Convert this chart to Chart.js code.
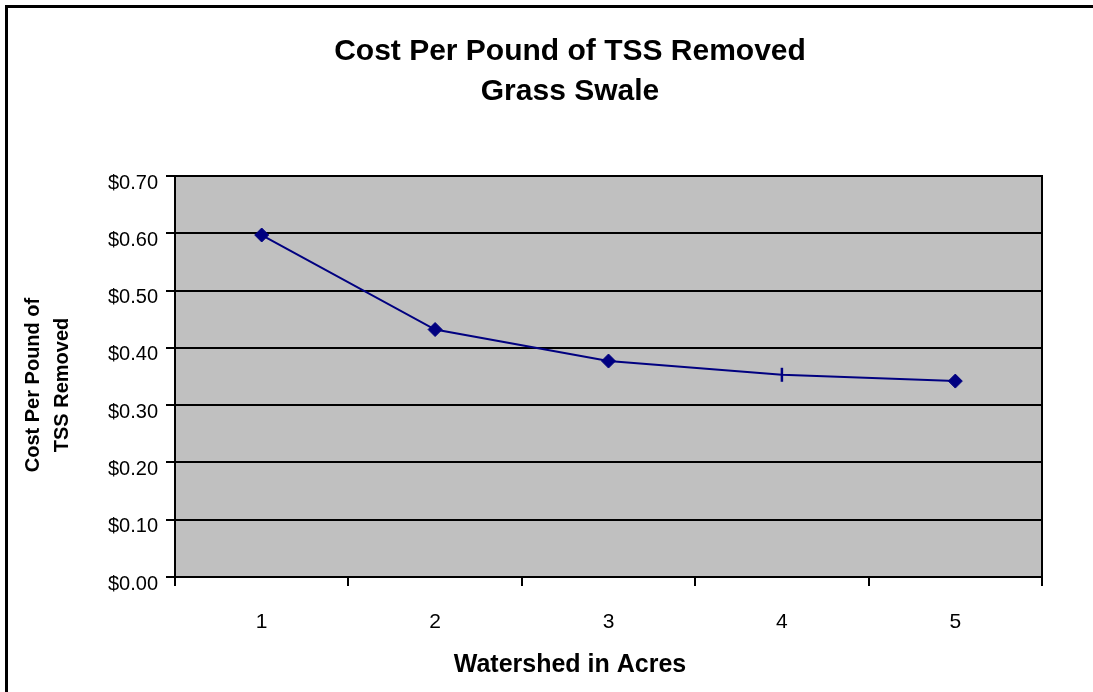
<!DOCTYPE html>
<html>
<head>
<meta charset="utf-8">
<script src="https://cdn.jsdelivr.net/npm/chart.js@4/dist/chart.umd.min.js"></script>
<style>
    html, body { margin: 0; padding: 0; background: #fff; overflow: hidden; }
    #frame {
        position: absolute; left: 5px; top: 5px;
        width: 1200px; height: 800px;
        border: 3px solid #000;
    }
    #chartBox { position: absolute; left: 0; top: 0; width: 1093px; height: 692px; }
</style>
</head>
<body>
<div id="frame"></div>
<div id="chartBox"><canvas id="costChart"></canvas></div>
<script>
    // Données : coût par livre de MES retirées, noue enherbée
    const watershedAcres = ['1', '2', '3', '4', '5'];
    const costPerPound = [0.597, 0.432, 0.377, 0.353, 0.342];
    const yMin = 0, yMax = 0.7, yStep = 0.1;

    const chartTitle = ['Cost Per Pound of TSS Removed', 'Grass Swale'];
    const yTitle = ['Cost Per Pound of', 'TSS Removed'];
    const xTitle = 'Watershed in Acres';

    const FONT = "'Liberation Sans', Arial, sans-serif";
    const NAVY = '#000080';

    // Fond gris + cadre de la zone de tracé
    const plotFrame = {
        id: 'plotFrame',
        beforeDraw(chart) {
            const { ctx, chartArea: a } = chart;
            ctx.save();
            ctx.fillStyle = '#c0c0c0';
            ctx.fillRect(a.left, a.top, a.right - a.left, a.bottom - a.top);
            ctx.restore();
        },
        afterDraw(chart) {
            const { ctx, chartArea: a } = chart;
            ctx.save();
            ctx.strokeStyle = '#000';
            ctx.lineWidth = 2;
            ctx.beginPath();
            ctx.moveTo(a.left, a.top);
            ctx.lineTo(a.right, a.top);
            ctx.lineTo(a.right, a.bottom);
            ctx.stroke();
            ctx.restore();
        }
    };

    // Titres façon Excel (centrés sur la zone du graphique, pas sur le tracé)
    const excelTitles = {
        id: 'excelTitles',
        afterDraw(chart) {
            const { ctx } = chart;
            const cx = 570;
            ctx.save();
            ctx.fillStyle = '#000';
            ctx.textAlign = 'center';
            ctx.textBaseline = 'middle';

            ctx.font = 'bold 30px ' + FONT;
            chartTitle.forEach((line, i) => ctx.fillText(line, cx, 52 + i * 40));

            ctx.font = 'bold 25px ' + FONT;
            ctx.fillText(xTitle, cx, 665);

            ctx.font = 'bold 20px ' + FONT;
            ctx.translate(0, 385);
            ctx.rotate(-Math.PI / 2);
            yTitle.forEach((line, i) => ctx.fillText(line, 0, 33 + i * 29));
            ctx.restore();
        }
    };

    const pointStyles = ['rectRot', 'rectRot', 'rectRot', 'line', 'rectRot'];
    const pointRotations = [0, 0, 0, 90, 0];
    const pointBorders = [1, 1, 1, 2.5, 1];

    new Chart(document.getElementById('costChart').getContext('2d'), {
        type: 'line',
        data: {
            labels: watershedAcres,
            datasets: [{
                data: costPerPound,
                borderColor: NAVY,
                backgroundColor: NAVY,
                borderWidth: 2,
                tension: 0,
                fill: false,
                pointStyle: pointStyles,
                rotation: pointRotations,
                pointRadius: 7,
                pointBorderWidth: pointBorders,
                pointBorderColor: NAVY,
                pointBackgroundColor: NAVY
            }]
        },
        options: {
            responsive: true,
            maintainAspectRatio: false,
            animation: false,
            events: [],
            layout: { padding: { left: 0, right: 51, top: 176, bottom: 0 } },
            plugins: {
                legend: { display: false },
                tooltip: { enabled: false },
                title: { display: false }
            },
            scales: {
                x: {
                    offset: true,
                    grid: {
                        offset: true,
                        drawOnChartArea: false,
                        color: '#000',
                        lineWidth: 2,
                        tickLength: 9
                    },
                    border: { color: '#000', width: 2 },
                    ticks: {
                        color: '#000',
                        font: { family: FONT, size: 21 },
                        padding: 24
                    },
                    afterFit: s => { s.height = 115; }
                },
                y: {
                    min: yMin,
                    max: yMax,
                    grid: { color: '#000', lineWidth: 2, tickLength: 9 },
                    border: { color: '#000', width: 2 },
                    ticks: {
                        stepSize: yStep,
                        color: '#000',
                        font: { family: FONT, size: 20 },
                        padding: 8,
                        labelOffset: 7,
                        callback: v => '$' + v.toFixed(2)
                    },
                    afterFit: s => { s.width = 175; }
                }
            }
        },
        plugins: [plotFrame, excelTitles]
    });
</script>
</body>
</html>
